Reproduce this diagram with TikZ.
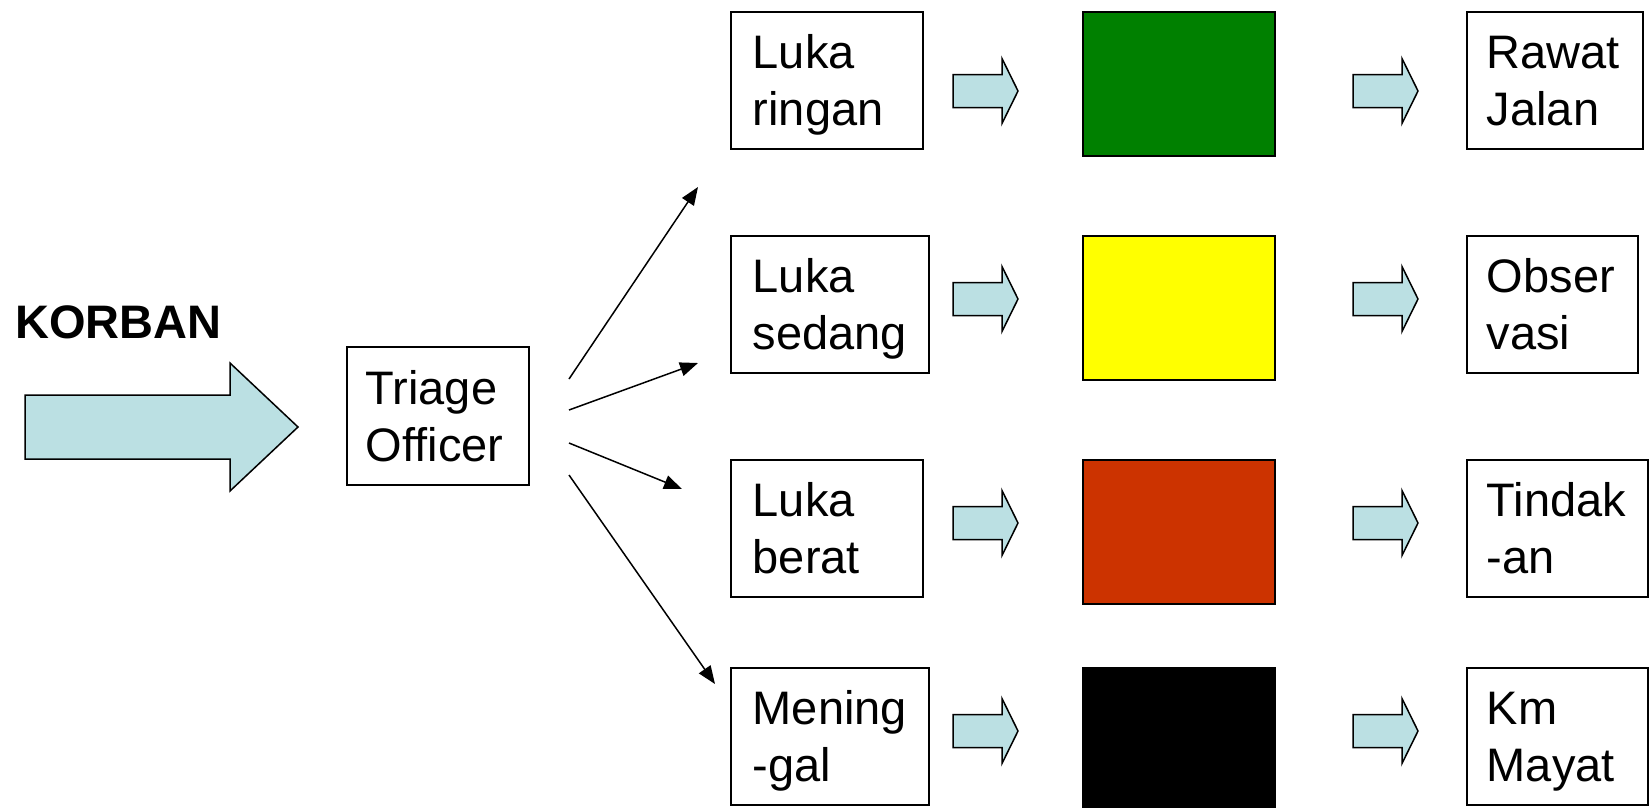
\documentclass[tikz,border=0pt]{standalone}
\usepackage{fontspec}
\setmainfont{Liberation Sans}
\usetikzlibrary{arrows.meta}

\definecolor{biru}{RGB}{187,224,227}
\definecolor{hijau}{RGB}{0,128,0}
\definecolor{kuning}{RGB}{255,255,0}
\definecolor{merah}{RGB}{204,51,0}

\begin{document}
\begin{tikzpicture}[x=1pt,y=-1pt,
  kotak/.style={draw=black, line width=1.6pt, anchor=north west, align=left,
    inner xsep=22pt, inner ysep=0pt, minimum height=137pt,
    text height=34pt, text depth=57pt, font=\fontsize{47}{57}\selectfont},
  warna/.style={draw=black, line width=2pt, anchor=north west, inner sep=0pt,
    minimum width=192pt, minimum height=144pt},
  garis/.style={line width=1.5pt, -{Triangle[length=18pt,width=14pt]}},
  blok/.style={draw=black, line width=1.5pt, fill=biru, line join=miter},
  pics/panahkecil/.style={code={
    \draw[blok] (-32.5,-16.5) -- (16.5,-16.5) -- (16.5,-32.5) -- (32.5,0)
      -- (16.5,32.5) -- (16.5,16.5) -- (-32.5,16.5) -- cycle;}}]
\useasboundingbox (0,0) rectangle (1650,807);

% masuk: korban ke triage
\node[anchor=base west, inner sep=0pt, font=\fontsize{47}{57}\selectfont\bfseries] (korban) at (15,338) {KORBAN};
\draw[blok] (25,395) -- (230,395) -- (230,363) -- (298,427) -- (230,491) -- (230,459) -- (25,459) -- cycle;
\node[kotak, text width=144pt, inner xsep=19pt, minimum height=138pt] (triage) at (346,346) {Triage\\Officer};

% kolom kategori luka
\node[kotak, text width=148pt] (ringan) at (730,11) {Luka\\ringan};
\node[kotak, text width=154pt] (sedang) at (730,235) {Luka\\sedang};
\node[kotak, text width=148pt] (berat) at (730,459) {Luka\\berat};
\node[kotak, text width=154pt] (mati) at (730,667) {Mening\\-gal};

% panah dari triage
\coordinate (t1) at (569,379); \coordinate (u1) at (698,187);
\coordinate (t2) at (569,410); \coordinate (u2) at (698,363);
\coordinate (t3) at (569,443); \coordinate (u3) at (682,489);
\coordinate (t4) at (569,475); \coordinate (u4) at (715,684);
\draw[garis] (t1) -- (u1);
\draw[garis] (t2) -- (u2);
\draw[garis] (t3) -- (u3);
\draw[garis] (t4) -- (u4);

% label warna
\node[warna, fill=hijau] (hijau) at (1082,11) {};
\node[warna, fill=kuning] (kuning) at (1082,235) {};
\node[warna, fill=merah] (merah) at (1082,459) {};
\node[warna, fill=black] (hitam) at (1082,667) {};

\pic at (985.5,91) {panahkecil};
\pic at (985.5,299) {panahkecil};
\pic at (985.5,523) {panahkecil};
\pic at (985.5,731) {panahkecil};
\pic at (1385.5,91) {panahkecil};
\pic at (1385.5,299) {panahkecil};
\pic at (1385.5,523) {panahkecil};
\pic at (1385.5,731) {panahkecil};

% tindak lanjut
\node[kotak, text width=136pt, inner xsep=20pt] (rawat) at (1466,11) {Rawat\\Jalan};
\node[kotak, text width=131pt, inner xsep=20pt] (obs) at (1466,235) {Obser\\vasi};
\node[kotak, text width=141pt, inner xsep=20pt] (tindak) at (1466,459) {Tindak\\-an};
\node[kotak, text width=141pt, inner xsep=20pt] (kamar) at (1466,667) {Km\\Mayat};
\end{tikzpicture}
\end{document}
